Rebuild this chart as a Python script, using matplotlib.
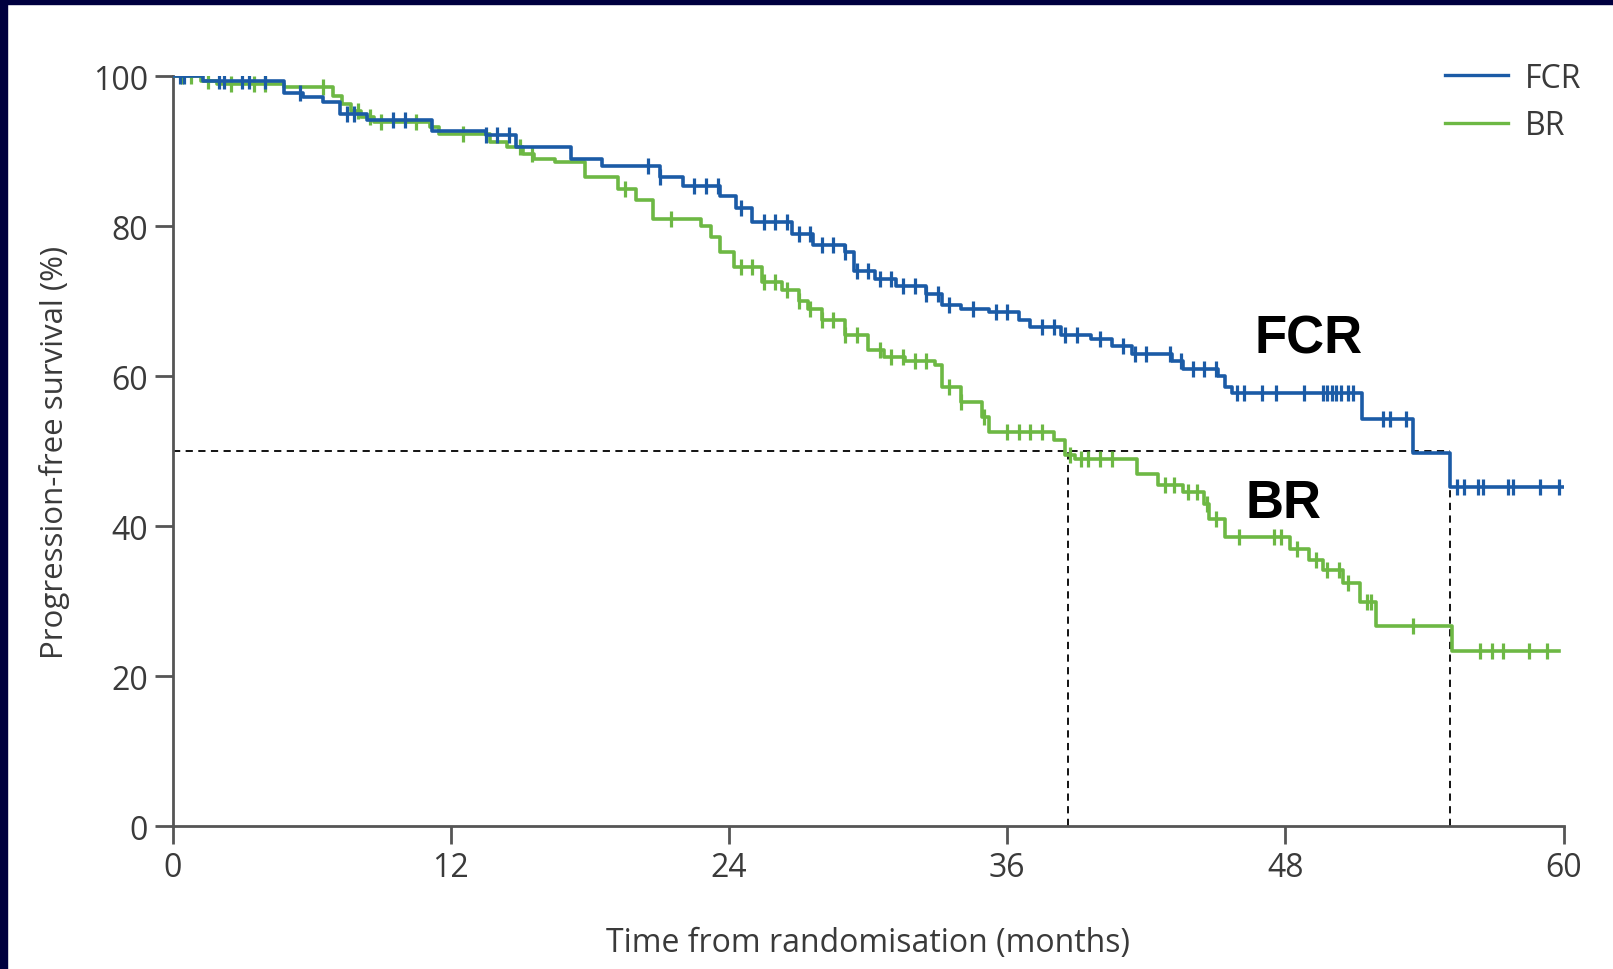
import matplotlib
matplotlib.use("Agg")
import matplotlib.pyplot as plt
from matplotlib.patches import Rectangle
from matplotlib.lines import Line2D
import numpy as np

# Kaplan-Meier steps (months, % progression-free)
fcr_t = [0, 1.3, 4.8, 5.6, 6.5, 7.2, 8.4, 11.2, 13.5, 14.8, 17.2, 18.5, 21.0, 22.0,
         23.6, 24.3, 25.0, 26.7, 27.6, 29.0, 29.4, 30.3, 31.2, 32.5, 33.2, 34.0,
         35.2, 36.5, 37.0, 38.3, 39.6, 40.5, 41.4, 43.1, 43.6, 45.1, 45.4, 45.7,
         51.3, 53.5, 55.1, 60.2]
fcr_s = [100, 99.4, 97.8, 97.2, 96.5, 95.0, 94.1, 92.7, 92.1, 90.5, 89.0, 88.0, 86.5,
         85.3, 84.0, 82.4, 80.5, 79.0, 77.5, 76.5, 74.0, 73.0, 72.0, 71.0, 69.5, 69.0,
         68.5, 67.5, 66.5, 65.5, 65.0, 64.0, 63.0, 62.0, 61.0, 60.0, 58.5, 57.8,
         54.3, 49.8, 45.2, 45.2]
fcr_cens = [0.3, 0.5, 2.0, 2.2, 3.0, 3.3, 4.0, 5.5, 7.5, 7.8, 9.5, 10.0, 13.5, 14.0,
            14.5, 20.5, 21.0, 22.5, 23.0, 23.5, 24.5, 25.5, 26.0, 26.5, 27.0, 27.5,
            28.0, 28.5, 29.0, 29.5, 30.0, 30.5, 31.0, 31.5, 32.0, 32.5, 33.0, 33.5,
            34.5, 35.5, 36.0, 37.5, 38.0, 38.5, 39.0, 40.0, 41.0, 41.5, 42.0, 43.0,
            43.5, 44.0, 44.5, 45.0, 45.9, 46.2, 47.0, 47.6, 48.8, 49.6, 49.8, 50.0,
            50.2, 50.4, 50.7, 50.9, 52.2, 52.5, 53.2, 55.4, 55.7, 56.3, 56.5, 57.6,
            57.8, 59.0, 59.8]

br_t = [0, 1.2, 1.9, 4.8, 6.9, 7.3, 7.7, 8.1, 8.7, 11.1, 11.5, 13.7, 14.4, 15.1, 15.6,
        16.5, 17.8, 19.2, 20.0, 20.7, 22.8, 23.2, 23.6, 24.2, 25.4, 26.3, 27.0, 27.4,
        28.0, 29.0, 30.0, 30.7, 31.6, 32.9, 33.2, 34.0, 34.9, 35.2, 38.0, 38.5, 38.9,
        41.6, 42.5, 43.6, 44.5, 44.7, 45.4, 48.2, 49.0, 49.6, 50.5, 51.2, 51.9, 55.2,
        59.8]
br_s = [100, 99.4, 99.0, 98.5, 97.4, 96.3, 95.4, 94.5, 93.9, 93.2, 92.3, 91.2, 90.5,
        89.6, 89.0, 88.5, 86.5, 85.0, 83.5, 81.0, 80.0, 78.5, 76.5, 74.5, 72.5, 71.5,
        70.0, 69.0, 67.5, 65.5, 63.5, 62.5, 62.0, 61.5, 58.5, 56.5, 54.5, 52.5, 51.5,
        49.5, 49.0, 47.0, 45.5, 44.5, 43.0, 41.0, 38.5, 37.0, 35.5, 34.1, 32.4, 29.9,
        26.7, 23.4, 23.4]
br_cens = [0.4, 0.8, 1.5, 2.5, 3.5, 4.0, 6.5, 8.0, 8.5, 9.0, 10.5, 12.5, 15.0, 15.5,
           19.5, 21.5, 24.5, 25.0, 25.5, 26.0, 26.5, 27.0, 27.5, 28.0, 28.5, 29.0,
           29.5, 30.5, 31.0, 31.5, 32.0, 32.5, 33.5, 34.0, 35.0, 36.0, 36.5, 37.0,
           37.5, 38.7, 39.2, 39.5, 40.0, 40.5, 42.8, 43.2, 43.8, 44.2, 44.6, 45.0,
           46.0, 47.5, 47.8, 48.5, 49.3, 49.8, 50.3, 50.7, 51.5, 51.7, 53.5, 56.4,
           56.9, 57.4, 58.5, 59.3]

x_ticks = [0, 12, 24, 36, 48, 60]
y_ticks = [0, 20, 40, 60, 80, 100]
median_br = 38.6
median_fcr = 55.1

blue = "#1b5ba6"
green = "#6db844"
txt = "#3a3a3a"

plt.rcParams["font.family"] = ["Open Sans", "DejaVu Sans"]

fig = plt.figure(figsize=(16.13, 9.70), dpi=100)
ax = fig.add_axes([0.1071, 0.1473, 0.9694 - 0.1071, 0.9204 - 0.1473])


def step_at(t, ts, ss):
    idx = np.searchsorted(ts, t, side="right") - 1
    return np.array(ss)[idx]


for ts, ss, cens, col in [(br_t, br_s, br_cens, green), (fcr_t, fcr_s, fcr_cens, blue)]:
    ax.plot(ts, ss, drawstyle="steps-post", color=col, lw=2.6, zorder=3)
    ax.plot(cens, step_at(cens, ts, ss), ls="none", marker="|", ms=12, mew=2.3,
            color=col, zorder=3)

# median guides
ax.plot([0, median_fcr], [50, 50], ls=(0, (4, 3)), color="black", lw=1.3, zorder=2)
ax.plot([median_br, median_br], [0, 50], ls=(0, (4, 3)), color="black", lw=1.3, zorder=2)
ax.plot([median_fcr, median_fcr], [0, 50], ls=(0, (4, 3)), color="black", lw=1.3, zorder=2)

ax.text(49.0, 65, "FCR", fontsize=38, fontweight="bold", family="Liberation Sans",
        ha="center", va="center", color="black")
ax.text(47.9, 43.1, "BR", fontsize=38, fontweight="bold", family="Liberation Sans",
        ha="center", va="center", color="black")

ax.set_xlim(0, 60)
ax.set_ylim(0, 100)
ax.set_xticks(x_ticks)
ax.set_yticks(y_ticks)
for s in ["top", "right"]:
    ax.spines[s].set_visible(False)
for s in ["left", "bottom"]:
    ax.spines[s].set_color("#555555")
    ax.spines[s].set_linewidth(2)
ax.tick_params(length=13, width=2, color="#555555", labelsize=23, labelcolor=txt, pad=5)
ax.set_xlabel("Time from randomisation (months)", fontsize=23, color=txt, labelpad=30)
ax.set_ylabel("Progression-free survival (%)", fontsize=22.5, color=txt, labelpad=16)

handles = [Line2D([], [], color=blue, lw=2.4), Line2D([], [], color=green, lw=2.4)]
fig.legend(handles, ["FCR", "BR"], loc="upper right", bbox_to_anchor=(0.99, 0.952),
           frameon=False, fontsize=23, labelcolor=txt, handlelength=2.0,
           handletextpad=0.5, labelspacing=0.45, borderpad=0)

# dark frame on left and top
fig.add_artist(Rectangle((0, 0), 7 / 1613, 1, transform=fig.transFigure,
                         color="#00003f", zorder=10))
fig.add_artist(Rectangle((0, 1 - 5 / 970), 1, 5 / 970, transform=fig.transFigure,
                         color="#00003f", zorder=10))

fig.savefig("out.png", dpi=100)
